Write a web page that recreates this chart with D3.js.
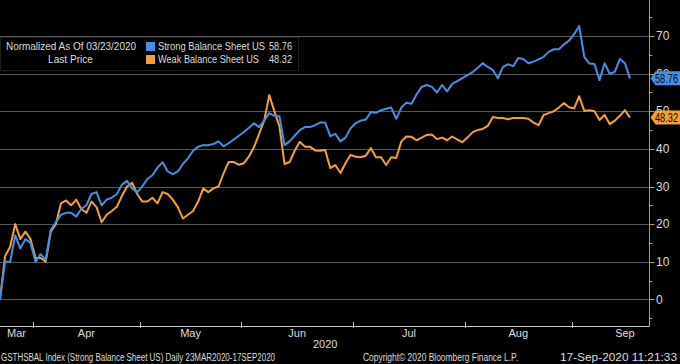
<!DOCTYPE html>
<html><head><meta charset="utf-8">
<script src="https://cdn.jsdelivr.net/npm/d3@7"></script>
<style>
html,body{margin:0;padding:0;background:#000;}
svg{display:block;}
text{font-family:"Liberation Sans Narrow","Arial Narrow","Liberation Sans",Arial,sans-serif;}
</style>
</head><body>
<svg id="chart" width="680" height="364"></svg>
<script>
// ---- data ----
const tradingDays = [
"03-23","03-24","03-25","03-26","03-27","03-30","03-31",
"04-01","04-02","04-03","04-06","04-07","04-08","04-09","04-13","04-14","04-15","04-16","04-17","04-20","04-21","04-22","04-23","04-24","04-27","04-28","04-29","04-30",
"05-01","05-04","05-05","05-06","05-07","05-08","05-11","05-12","05-13","05-14","05-15","05-18","05-19","05-20","05-21","05-22","05-26","05-27","05-28","05-29",
"06-01","06-02","06-03","06-04","06-05","06-08","06-09","06-10","06-11","06-12","06-15","06-16","06-17","06-18","06-19","06-22","06-23","06-24","06-25","06-26","06-29","06-30",
"07-01","07-02","07-06","07-07","07-08","07-09","07-10","07-13","07-14","07-15","07-16","07-17","07-20","07-21","07-22","07-23","07-24","07-27","07-28","07-29","07-30","07-31",
"08-03","08-04","08-05","08-06","08-07","08-10","08-11","08-12","08-13","08-14","08-17","08-18","08-19","08-20","08-21","08-24","08-25","08-26","08-27","08-28","08-31",
"09-01","09-02","09-03","09-04","09-08","09-09","09-10","09-11","09-14","09-15","09-16","09-17"
];
const strongBalance = [
0,10,10,17,13.5,16,15,10,12,10.5,
18.5,20.5,22.5,23,23,22,24,25,28,28.5,
25,26.5,27,28,30.5,31.5,29.5,28.5,30,32,
33,35,36.5,34,33.3,34,36,37.5,39.5,40.6,
41,41,41.3,42,40.7,41.5,42.5,43.5,44.5,45.6,
46.8,45.8,47.5,49.5,48.8,48.7,41,42,43.5,45,
45.8,45.8,46.3,47,47,43.4,44,42,43,45.5,
46.8,47.5,47.8,49.8,49.6,50.3,50.7,51,48,51,
52.3,52,54.5,56.5,57,56.5,55,57,55.3,57.3,
58,58.8,59.6,60.4,61.5,62.8,61.8,61,58.8,61.8,
62.5,62,64.2,63.9,62.8,63.2,63.8,64.5,65.8,66.5,
66.5,67.8,68.8,70.5,72.7,64.5,62.7,62.6,58.3,62.8,
60,60.5,63.9,62.8,58.76
];
const weakBalance = [
0,11.5,14,20,16,18,16,11,11,10,
18,20,25.5,26.3,25,26.5,24,23,26,24.5,
20.5,22.5,23.5,24.6,27.5,30,31,28,26,26,
27,25.5,28.5,28,26.5,24.5,21.5,22.5,23.5,26,
29.5,28.5,29.5,30,33.5,36.5,36.5,35.8,36.2,38,
40.5,44,47.5,54.3,50,46,36,36.5,39.5,41.9,
40.6,40.6,39.6,39.5,39.7,34.9,35.7,33.6,36.2,38.4,
37.9,37.8,38.2,40.2,37.8,37.8,35.7,37.8,37.6,42,
43.3,43.2,42.3,43,43.7,43.8,42.6,43,42.3,43.3,
42.5,41.8,43,44.4,45,45.3,46.1,48.5,48.2,48.2,
47.9,48.2,48.2,48.2,48,47,46.3,49,49.5,50,
51,52.2,51.1,50.8,54,50.1,50.3,50,47.7,49,
46.6,47.5,48.8,50.3,48.32
];
const seriesNames = ["Strong Balance Sheet US","Weak Balance Sheet US"];
const lastValues = ["58.76","48.32"];
const yTickValues = [0,10,20,30,40,50,60,70];
const yMinorValues = [-5,5,15,25,35,45,55,65,75];
const monthNames = ["Mar","Apr","May","Jun","Jul","Aug","Sep"];
const yearLabel = "2020";
const legendTitle = ["Normalized As Of 03/23/2020","Last Price"];
const footer = ["GSTHSBAL Index (Strong Balance Sheet US)  Daily 23MAR2020-17SEP2020",
                "Copyright\u00A9 2020 Bloomberg Finance L.P.",
                "17-Sep-2020 11:21:33"];

// ---- layout ----
const colors = {blue:"#4290ea", orange:"#f6a031", grid:"#575757", axisR:"#c9964e", axisB:"#c8c8c8", text:"#dcdcdc"};
const plotRight = 649.5, plotBottom = 326;
const svg = d3.select("#chart");
svg.append("rect").attr("width",680).attr("height",364).attr("fill","#000");

function fit(sel, w){ return sel.attr("textLength", w).attr("lengthAdjust","spacingAndGlyphs"); }

const x = d3.scaleLinear().domain([0, tradingDays.length-1]).range([0, 630]);
const y = d3.scaleLinear().domain([-7.1, 79.6]).range([plotBottom, 0]);

// gridlines
svg.append("g").selectAll("line").data(yTickValues).join("line")
  .attr("x1",0).attr("x2",plotRight).attr("y1",d=>Math.round(y(d))+0.5).attr("y2",d=>Math.round(y(d))+0.5)
  .attr("stroke",colors.grid).attr("stroke-width",1);

// lines
const line = d3.line().x((d,i)=>x(i)).y(d=>y(d)).curve(d3.curveLinear);
[[weakBalance,colors.orange],[strongBalance,colors.blue]].forEach(([arr,c])=>{
  svg.append("path").datum(arr).attr("d",line).attr("fill","none")
    .attr("stroke",c).attr("stroke-width",2).attr("stroke-linejoin","round");
});

// bottom axis
svg.append("line").attr("x1",0).attr("x2",plotRight).attr("y1",plotBottom+0.5).attr("y2",plotBottom+0.5)
  .attr("stroke",colors.axisB).attr("stroke-width",1);
const monthStart = [0];
tradingDays.forEach((d,i)=>{ if(i>0 && d.slice(0,2)!==tradingDays[i-1].slice(0,2)) monthStart.push(i); });
const tickX = monthStart.slice(1).map(i=>x(i-0.5));
svg.append("g").selectAll("line").data(tickX).join("line")
  .attr("x1",d=>Math.round(d)+0.5).attr("x2",d=>Math.round(d)+0.5).attr("y1",plotBottom-4).attr("y2",plotBottom+2)
  .attr("stroke",colors.axisB).attr("stroke-width",1);
const bounds = [0, ...tickX];
const step = x(1)-x(0);
bounds.push(tickX[tickX.length-1] + 21*step);
svg.append("g").selectAll("text").data(monthNames).join("text")
  .attr("x",(d,i)=>(bounds[i]+bounds[i+1])/2).attr("y",337)
  .attr("text-anchor","middle").attr("fill",colors.text).attr("font-size",11).text(d=>d);
svg.append("text").attr("x",(tickX[2]+tickX[3])/2+28).attr("y",348).attr("text-anchor","middle")
  .attr("fill",colors.text).attr("font-size",11).text(yearLabel);

// right axis
svg.append("line").attr("x1",plotRight).attr("x2",plotRight).attr("y1",0).attr("y2",plotBottom)
  .attr("stroke",colors.axisR).attr("stroke-width",1);
svg.append("g").selectAll("line").data(yTickValues).join("line")
  .attr("x1",plotRight).attr("x2",plotRight+5).attr("y1",d=>Math.round(y(d))+0.5).attr("y2",d=>Math.round(y(d))+0.5)
  .attr("stroke",colors.axisR);
svg.append("g").selectAll("line").data(yMinorValues).join("line")
  .attr("x1",plotRight).attr("x2",plotRight+3).attr("y1",d=>Math.round(y(d))+0.5).attr("y2",d=>Math.round(y(d))+0.5)
  .attr("stroke",colors.axisR);
svg.append("g").selectAll("text").data(yTickValues).join("text")
  .attr("x",656).attr("y",d=>y(d)).attr("dy","0.35em").attr("fill",colors.text).attr("font-size",12).text(d=>d);

// last value tags
[[strongBalance,colors.blue,lastValues[0]],[weakBalance,colors.orange,lastValues[1]]].forEach(([arr,c,lbl])=>{
  const yc = y(arr[arr.length-1]);
  svg.append("path").attr("d",`M${plotRight+1},${yc} L${plotRight+6},${yc-7} L680,${yc-7} L680,${yc+7} L${plotRight+6},${yc+7} Z`)
    .attr("fill",c);
  fit(svg.append("text").attr("x",655).attr("y",yc).attr("dy","0.36em").attr("fill","#0a0a0a").attr("font-size",12).text(lbl), 23);
});

// legend
const lg = svg.append("g");
lg.append("rect").attr("x",0.5).attr("y",37.5).attr("width",298).attr("height",33).attr("fill","#000").attr("stroke","#1e1e1e");
fit(lg.append("text").attr("x",6).attr("y",50).attr("fill",colors.text).attr("font-size",11).text(legendTitle[0]), 130);
fit(lg.append("text").attr("x",48).attr("y",63).attr("fill",colors.text).attr("font-size",11).text(legendTitle[1]), 45);
const nameW = [107,101];
[[colors.blue,0],[colors.orange,1]].forEach(([c,i])=>{
  const yy = 42 + i*13;
  lg.append("rect").attr("x",146).attr("y",yy).attr("width",9).attr("height",9).attr("fill",c);
  fit(lg.append("text").attr("x",158).attr("y",yy+8).attr("fill",colors.text).attr("font-size",11).text(seriesNames[i]), nameW[i]);
  fit(lg.append("text").attr("x",269).attr("y",yy+8).attr("fill",colors.text).attr("font-size",11).text(lastValues[i]), 23);
});

// footer
fit(svg.append("text").attr("x",1).attr("y",361).attr("fill",colors.text).attr("font-size",10).text(footer[0]), 274);
fit(svg.append("text").attr("x",363).attr("y",361).attr("fill",colors.text).attr("font-size",10).text(footer[1]), 155);
fit(svg.append("text").attr("x",560).attr("y",361).attr("fill",colors.text).attr("font-size",10).text(footer[2]), 117);
</script>
</body></html>
